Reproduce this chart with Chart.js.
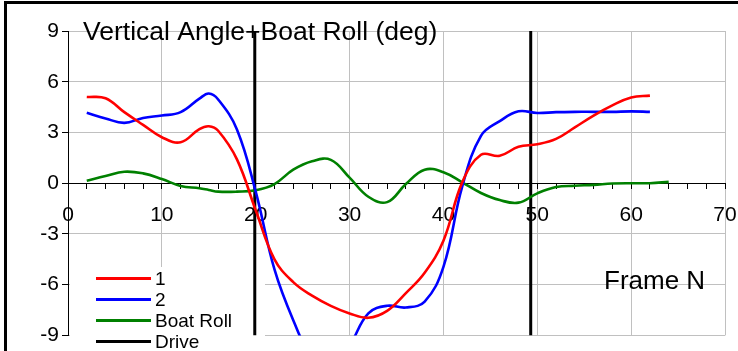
<!DOCTYPE html>
<html>
<head>
<meta charset="utf-8">
<script src="https://cdn.jsdelivr.net/npm/chart.js@4.4.0/dist/chart.umd.min.js"></script>
<style>
  body { margin: 0; background: #fff; }
  #wrap { position: relative; width: 738px; height: 351px; overflow: hidden; }
  #frame { position: absolute; left: 4px; top: 1px; width: 740px; height: 360px;
           border-top: 3px solid #000; border-left: 3px solid #000; pointer-events: none; }
</style>
</head>
<body>
<div id="wrap">
  <canvas id="myChart" width="738" height="351"></canvas>
  <div id="frame"></div>
</div>
<script>
// frame numbers (x) and angles in degrees
const frames = [2, 4, 6, 8, 10, 12, 14, 15, 16, 18, 20, 22, 24, 26, 28, 30, 32,
                34, 36, 38, 40, 42, 44, 46, 48, 50, 52, 54, 56, 58, 60, 62, 64];
const angle1 = [5.1, 5.02, 4.2, 3.45, 2.72, 2.42, 3.2, 3.37, 3.1, 1.41, -1.6, -4.5, -5.85, -6.65, -7.25, -7.7, -7.96,
                -7.55, -6.5, -5.3, -3.4, 0.05, 1.68, 1.62, 2.15, 2.3, 2.62, 3.3, 4.0, 4.6, 5.07, 5.18, null];
const angle2 = [4.16, 3.83, 3.57, 3.86, 4.0, 4.2, 5.0, 5.3, 4.95, 3.18, -0.5, -5.1, -8.1, -10.3, -11.0, -9.6, -7.7,
                -7.25, -7.35, -7.0, -4.95, -0.2, 2.8, 3.67, 4.25, 4.15, 4.2, 4.22, 4.22, 4.22, 4.25, 4.22, null];
const boatRoll = [0.14, 0.42, 0.68, 0.58, 0.25, -0.16, -0.3, -0.4, -0.5, -0.5, -0.42, -0.05, 0.8, 1.3, 1.38, 0.33, -0.8,
                  -1.12, -0.05, 0.8, 0.65, 0.05, -0.58, -1.0, -1.15, -0.6, -0.23, -0.15, -0.1, -0.02, 0.0, 0.0, 0.08];
const driveFrames = [19.9, 49.3];
const xTicks = [0, 10, 20, 30, 40, 50, 60, 70];
const yTicks = [-9, -6, -3, 0, 3, 6, 9];

const FONT = '"Liberation Sans", Arial, sans-serif';

function toPoints(values) {
    const pts = [];
    for (let i = 0; i < frames.length; i++) {
        if (values[i] !== null) pts.push({ x: frames[i], y: values[i] });
    }
    return pts;
}

function drivePoints() {
    const pts = [];
    driveFrames.forEach(function(f, i) {
        if (i > 0) pts.push({ x: f, y: null });
        pts.push({ x: f, y: yTicks[0] });
        pts.push({ x: f, y: yTicks[yTicks.length - 1] });
    });
    return pts;
}

const legendItems = [
    { label: '1', color: '#ff0000' },
    { label: '2', color: '#0000ff' },
    { label: 'Boat Roll', color: '#008000' },
    { label: 'Drive', color: '#000000' }
];

const textPlugin = {
    id: 'textPlugin',
    beforeDatasetsDraw: function(chart) {
        const ctx = chart.ctx;
        ctx.save();
        ctx.fillStyle = '#fff';
        ctx.fillRect(70, 267, 195, 90);
        ctx.restore();
    },
    afterDraw: function(chart) {
        const ctx = chart.ctx;
        ctx.save();
        ctx.fillStyle = '#000';
        ctx.textBaseline = 'alphabetic';
        ctx.textAlign = 'left';
        ctx.font = '26.5px ' + FONT;
        ctx.fillText('Vertical Angle+Boat Roll (deg)', 83, 40);
        ctx.font = '26px ' + FONT;
        ctx.fillText('Frame N', 604, 289);

        ctx.font = '19px ' + FONT;
        ctx.textBaseline = 'middle';
        legendItems.forEach(function(item, i) {
            const y = 278.5 + i * 21;
            ctx.strokeStyle = item.color;
            ctx.lineWidth = 3;
            ctx.beginPath();
            ctx.moveTo(96, y);
            ctx.lineTo(151, y);
            ctx.stroke();
            ctx.fillStyle = '#000';
            ctx.fillText(item.label, 155, y + 1);
        });
        ctx.restore();
    }
};

document.addEventListener('DOMContentLoaded', function() {
    const ctx = document.getElementById('myChart').getContext('2d');

    const lineStyle = { showLine: true, pointRadius: 0, borderWidth: 2.6, tension: 0.4, fill: false };

    new Chart(ctx, {
        type: 'scatter',
        data: {
            datasets: [
                Object.assign({ label: '1', data: toPoints(angle1), borderColor: '#ff0000' }, lineStyle),
                Object.assign({ label: '2', data: toPoints(angle2), borderColor: '#0000ff' }, lineStyle),
                Object.assign({ label: 'Boat Roll', data: toPoints(boatRoll), borderColor: '#008000' }, lineStyle),
                { label: 'Drive', data: drivePoints(), borderColor: '#000000', showLine: true,
                  pointRadius: 0, borderWidth: 3, tension: 0, spanGaps: false }
            ]
        },
        options: {
            responsive: false,
            animation: false,
            layout: { padding: { left: 0, top: 31, right: 13, bottom: 14 } },
            plugins: {
                legend: { display: false },
                title: { display: false },
                tooltip: { enabled: false }
            },
            scales: {
                x: {
                    type: 'linear',
                    position: { y: 0 },
                    min: xTicks[0],
                    max: xTicks[xTicks.length - 1],
                    afterBuildTicks: function(scale) {
                        const ticks = [];
                        for (let v = xTicks[0]; v <= xTicks[xTicks.length - 1]; v += 2) ticks.push({ value: v });
                        scale.ticks = ticks;
                    },
                    afterFit: function(scale) {
                        // labels overhang only a little, keep the plot edge fixed
                        scale.paddingLeft = 0;
                        scale.paddingRight = 0;
                    },
                    ticks: {
                        autoSkip: false,
                        maxRotation: 0,
                        color: '#000',
                        padding: 14,
                        font: { family: FONT, size: 21 },
                        callback: function(v) { return xTicks.indexOf(v) >= 0 ? String(v) : ''; }
                    },
                    grid: {
                        color: function(c) {
                            const v = c.tick && c.tick.value;
                            return (v !== 0 && xTicks.indexOf(v) >= 0) ? '#c0c0c0' : 'rgba(0,0,0,0)';
                        },
                        tickColor: '#000',
                        tickLength: 5,
                        lineWidth: 1
                    },
                    border: { color: '#000', width: 1 }
                },
                y: {
                    type: 'linear',
                    min: yTicks[0],
                    max: yTicks[yTicks.length - 1],
                    afterBuildTicks: function(scale) {
                        scale.ticks = yTicks.map(function(v) { return { value: v }; });
                    },
                    afterFit: function(scale) { scale.width = 68; },
                    ticks: {
                        color: '#000',
                        padding: 3,
                        font: { family: FONT, size: 21 }
                    },
                    grid: {
                        color: function(c) {
                            return c.tick && c.tick.value === 0 ? 'rgba(0,0,0,0)' : '#c0c0c0';
                        },
                        tickColor: '#000',
                        tickLength: 6,
                        lineWidth: 1
                    },
                    border: { color: '#000', width: 1 }
                }
            }
        },
        plugins: [textPlugin]
    });
});
</script>
</body>
</html>
